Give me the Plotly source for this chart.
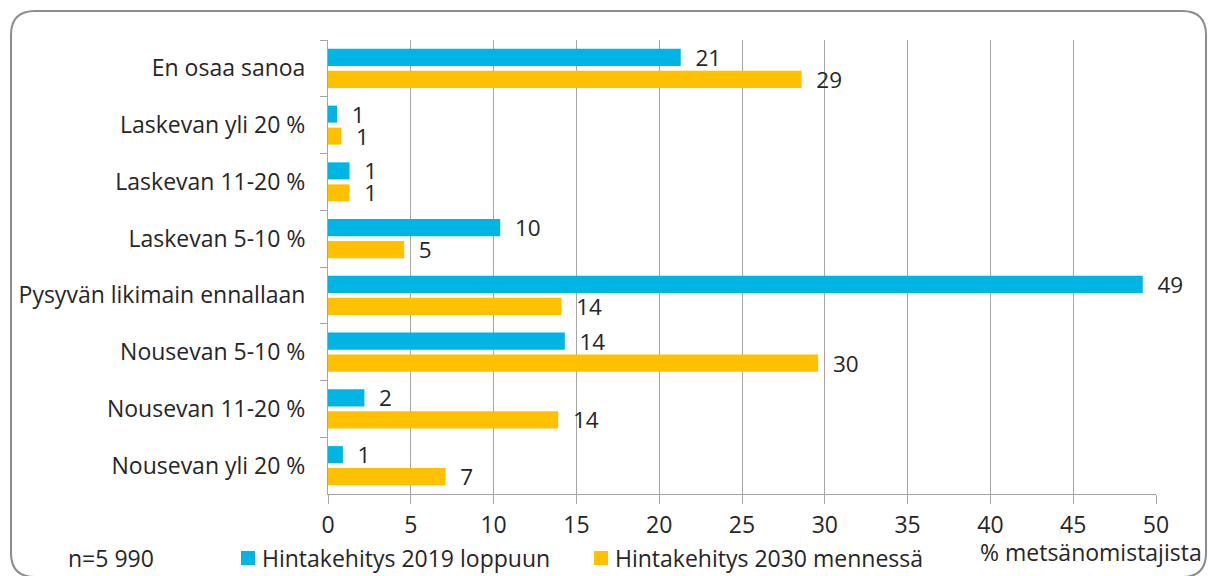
import plotly.graph_objects as go

# Data (% of forest owners)
categories = [
    "En osaa sanoa",
    "Laskevan yli 20 %",
    "Laskevan 11-20 %",
    "Laskevan 5-10 %",
    "Pysyvän likimain ennallaan",
    "Nousevan 5-10 %",
    "Nousevan 11-20 %",
    "Nousevan yli 20 %",
]
values_2019 = [21.3, 0.55, 1.3, 10.4, 49.2, 14.3, 2.2, 0.9]
values_2030 = [28.6, 0.8, 1.3, 4.6, 14.1, 29.6, 13.9, 7.1]
series_names = ["Hintakehitys 2019 loppuun", "Hintakehitys 2030 mennessä"]
x_ticks = [0, 5, 10, 15, 20, 25, 30, 35, 40, 45, 50]

COLORS = {"blue": "#00B4E4", "orange": "#FFC000", "grid": "#A6A6A6", "text": "#262626"}
FONT = "'Open Sans', sans-serif"
FS = 23

W, H = 1208, 576
ML, MT = 328, 40
MR = W - 1156
MB = H - 494
PW, PH = W - ML - MR, H - MT - MB


def px(x):
    """window pixel x -> paper fraction"""
    return (x - ML) / PW


def py(y):
    """window pixel y -> paper fraction"""
    return (H - MB - y) / PH


fig = go.Figure()
series_colors = [COLORS["blue"], COLORS["orange"]]
for name, vals, col in zip(series_names, [values_2019, values_2030], series_colors):
    fig.add_trace(go.Bar(
        name=name, y=categories, x=vals, orientation="h",
        marker=dict(color=col, line=dict(width=0)),
        texttemplate="\u00a0\u00a0%{x:.0f}", textposition="outside",
        textfont=dict(size=22.5, color=COLORS["text"], family=FONT),
        constraintext="none", cliponaxis=False, showlegend=False,
    ))

# rounded outer frame
l, r, t, b, rad = 11, 1206, 11, 577, 24
frame = (f"M{px(l + rad)},{py(t)} L{px(r - rad)},{py(t)} "
         f"Q{px(r)},{py(t)} {px(r)},{py(t + rad)} L{px(r)},{py(b - rad)} "
         f"Q{px(r)},{py(b)} {px(r - rad)},{py(b)} L{px(l + rad)},{py(b)} "
         f"Q{px(l)},{py(b)} {px(l)},{py(b - rad)} L{px(l)},{py(t + rad)} "
         f"Q{px(l)},{py(t)} {px(l + rad)},{py(t)} Z")
shapes = [dict(type="path", xref="paper", yref="paper", path=frame,
               line=dict(color="#8C8C8C", width=2), layer="above")]

# legend drawn by hand (square + label), so it does not push the margins
annotations = []
for (sq_x, txt_x), name, col in zip([(241, 260), (594, 613)], series_names, series_colors):
    shapes.append(dict(type="rect", xref="paper", yref="paper",
                       x0=px(sq_x), x1=px(sq_x + 14), y0=py(565), y1=py(551),
                       fillcolor=col, line=dict(width=0)))
    annotations.append(dict(text=name, x=px(txt_x), y=py(558), xref="paper", yref="paper",
                            xanchor="left", yanchor="middle", showarrow=False,
                            font=dict(size=FS, color=COLORS["text"])))

annotations += [
    dict(text="n=5 990", x=px(66), y=py(558), xref="paper", yref="paper",
         xanchor="left", yanchor="middle", showarrow=False,
         font=dict(size=FS, color=COLORS["text"])),
    dict(text="% metsänomistajista", x=px(1204), y=py(552), xref="paper", yref="paper",
         xanchor="right", yanchor="middle", showarrow=False,
         font=dict(size=FS, color=COLORS["text"])),
]

fig.update_layout(
    width=W, height=H, autosize=False,
    margin=dict(l=ML, r=MR, t=MT, b=MB),
    plot_bgcolor="white", paper_bgcolor="white",
    barmode="group", bargap=0.224, bargroupgap=0.227,
    font=dict(family=FONT, size=FS, color=COLORS["text"]),
    showlegend=False,
    xaxis=dict(range=[0, 50], tickvals=x_ticks, showgrid=True, gridcolor=COLORS["grid"],
               gridwidth=1, showline=True, linecolor=COLORS["grid"], ticks="outside",
               ticklen=9, tickcolor=COLORS["grid"], zeroline=False, automargin=False,
               tickfont=dict(size=FS, color=COLORS["text"]), ticklabelstandoff=1),
    yaxis=dict(type="category", autorange="reversed", showgrid=False, showline=True,
               linecolor=COLORS["grid"], ticks="outside", tickson="boundaries",
               ticklen=7, tickcolor=COLORS["grid"], automargin=False,
               tickfont=dict(size=FS, color=COLORS["text"]), ticklabelstandoff=17),
    shapes=shapes,
    annotations=annotations,
)

# drop the browser's default 8px body margin so the figure fills the window exactly
fig.write_html("out.html",
               config={"responsive": False, "displayModeBar": False},
               post_script="document.body.style.margin='0';document.body.style.overflow='hidden';")
